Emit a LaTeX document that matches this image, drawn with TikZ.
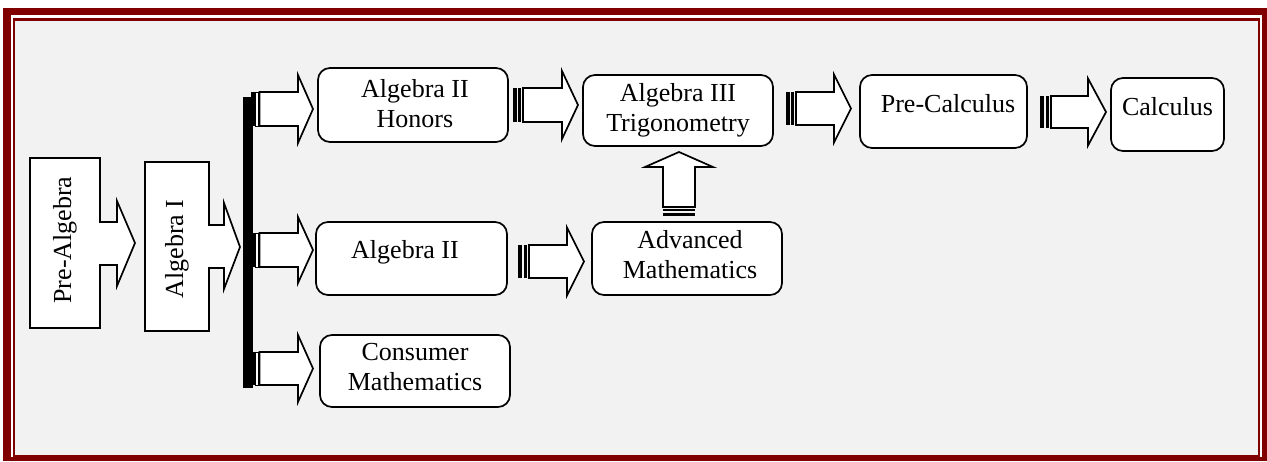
\documentclass[tikz,border=0pt]{standalone}
\usepackage{fontspec}
\setmainfont{Liberation Serif}
\definecolor{framered}{HTML}{800000}
\definecolor{bggray}{HTML}{F2F2F2}
\newcommand{\HArrowShape}[6]{%
  \draw[shp] (#1,#4-#5) -- (#2,#4-#5) -- (#2,#4-#6) -- (#3,#4) -- (#2,#4+#6) -- (#2,#4+#5) -- (#1,#4+#5) -- cycle;}
\begin{document}
\begin{tikzpicture}[x=1pt,y=-1pt,line join=miter,
  shp/.style={draw=black,fill=white,line width=1.7pt},
  rbox/.style={draw=black,fill=white,line width=1.7pt,rounded corners=12pt,inner sep=0pt},
  lbl/.style={font=\fontsize{26}{30}\selectfont,align=center,inner sep=0pt},
  stripe/.style={fill=black}]
\useasboundingbox (0,0) rectangle (1267,461);
% frame
\fill[white] (0,0) rectangle (1267,461);
\fill[framered] (3,8) rectangle (1267,461);
\fill[white] (11,15) rectangle (1262,457);
\fill[framered] (12.5,18) rectangle (1259.5,456.5);
\fill[bggray] (14.5,20.5) rectangle (1257.5,454.5);

% left callout shapes
\draw[shp] (30,158) -- (100,158) -- (100,222) -- (117,222) -- (117,201) -- (135,243) -- (117,286) -- (117,265) -- (100,265) -- (100,328) -- (30,328) -- cycle;
\node[lbl,rotate=90] (tpre) at (65,240) {Pre-Algebra};
\draw[shp] (145,162) -- (209,162) -- (209,225) -- (224,225) -- (224,203) -- (240,247) -- (224,289) -- (224,268) -- (209,268) -- (209,331) -- (145,331) -- cycle;
\node[lbl,rotate=90] (talg1) at (177,249) {Algebra I};

% vertical bar
\fill[black] (243,97) rectangle (252.5,388);

% bar arrows
\fill[stripe] (251,92) rectangle (254.5,126);
\draw[line width=1pt,fill=white] (255.5,92) rectangle (258.5,126);
\HArrowShape{259.5}{298}{313}{109}{17}{34}
\fill[stripe] (251,233) rectangle (254.5,267);
\draw[line width=1pt,fill=white] (255.5,233) rectangle (258.5,267);
\HArrowShape{259.5}{298}{313}{250}{17}{33}
\fill[stripe] (251,352) rectangle (254.5,385);
\draw[line width=1pt,fill=white] (255.5,352) rectangle (258.5,385);
\HArrowShape{259.5}{298}{313}{368.5}{16.5}{33.5}

% boxes
\node[rbox,minimum width=190pt,minimum height=74pt] (hon) at (413,105) {};
\node[rbox,minimum width=190pt,minimum height=71pt] (alg3) at (678,110.5) {};
\node[rbox,minimum width=167pt,minimum height=73pt] (pre) at (943.5,111.5) {};
\node[rbox,minimum width=113pt,minimum height=73pt] (calc) at (1167.5,114.5) {};
\node[rbox,minimum width=191pt,minimum height=73pt] (alg2) at (411.5,258.5) {};
\node[rbox,minimum width=190pt,minimum height=73pt] (adv) at (687,258.5) {};
\node[rbox,minimum width=190pt,minimum height=72pt] (con) at (415,371) {};

% labels
\node[lbl] (thon) at (415,103.5) {Algebra II\\Honors};
\node[lbl] (talg3) at (678,110) {Algebra III\\Trigonometry};
\node[lbl,anchor=base] (tpc) at (948,112) {Pre-Calculus};
\node[lbl,anchor=base] (tcalc) at (1167.5,115) {Calculus};
\node[lbl,anchor=base] (talg2) at (405,258) {Algebra II};
\node[lbl] (tadv) at (690,254.5) {Advanced\\Mathematics};
\node[lbl] (tcon) at (415,367) {Consumer\\Mathematics};

% striped arrows between boxes
\fill[stripe] (513,88) rectangle (516.5,122);
\fill[stripe] (518,88) rectangle (521,122);
\HArrowShape{523}{562}{578}{105}{17}{34}

\fill[stripe] (786,92) rectangle (789.5,125);
\fill[stripe] (791,92) rectangle (794,125);
\HArrowShape{796}{834}{851}{108.5}{16.5}{34}

\fill[stripe] (1040,96) rectangle (1044,128);
\fill[stripe] (1045.5,96) rectangle (1049,128);
\HArrowShape{1051}{1088}{1106}{112}{16}{33.5}

\fill[stripe] (518,245) rectangle (522,278);
\fill[stripe] (523.5,245) rectangle (527,278);
\HArrowShape{529}{567}{584}{261.5}{16.5}{34}

% up arrow
\draw[shp] (663,207) -- (663,167) -- (645,167) -- (679,152) -- (713,167) -- (695,167) -- (695,207) -- cycle;
\fill[stripe] (663,209) rectangle (695,210.5);
\fill[stripe] (663,212.5) rectangle (695,216);
\end{tikzpicture}
\end{document}
